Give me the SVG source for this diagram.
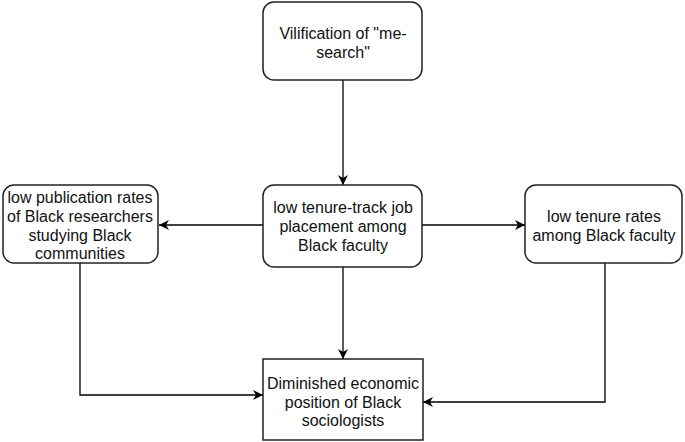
<svg xmlns="http://www.w3.org/2000/svg" width="685" height="442" viewBox="0 0 685 442">
<defs>
<marker id="arr" viewBox="0 0 10 10" refX="10" refY="5" markerWidth="10" markerHeight="10" markerUnits="userSpaceOnUse" orient="auto">
<path d="M0,0 L10,5 L0,10 L3,5 Z" fill="#000"/>
</marker>
</defs>
<style>
.box{fill:#fff;stroke:#222;stroke-width:1.5}
.t{font-family:"Liberation Sans",Arial,sans-serif;font-size:16px;fill:#111;text-anchor:middle}
.c{fill:none;stroke:#000;stroke-width:1.3;marker-end:url(#arr)}
</style>
<rect width="685" height="442" fill="#fff"/>
<g id="connectors">
<path class="c" d="M343,80 L343,185"/>
<path class="c" d="M263,225 L159,225"/>
<path class="c" d="M422,225 L525,225"/>
<path class="c" d="M343,267 L343,359"/>
<path class="c" d="M80,263 L80,395 L263,395"/>
<path class="c" d="M605,263 L605,402 L423,402"/>
</g>
<g id="n1">
<rect class="box" x="263" y="2" width="159" height="78" rx="11"/>
<text class="t" x="343" y="39">Vilification of "me-</text>
<text class="t" x="343" y="58">search"</text>
</g>
<g id="n2">
<rect class="box" x="263" y="185" width="159" height="82" rx="11"/>
<text class="t" x="343" y="213">low tenure-track job</text>
<text class="t" x="343" y="232">placement among</text>
<text class="t" x="343" y="251">Black faculty</text>
</g>
<g id="n3">
<rect class="box" x="3" y="185" width="155" height="78" rx="11"/>
<text class="t" x="80" y="203">low publication rates</text>
<text class="t" x="80" y="222">of Black researchers</text>
<text class="t" x="80" y="241">studying Black</text>
<text class="t" x="80" y="259">communities</text>
</g>
<g id="n4">
<rect class="box" x="525" y="185" width="157" height="78" rx="11"/>
<text class="t" x="604" y="222">low tenure rates</text>
<text class="t" x="604" y="241">among Black faculty</text>
</g>
<g id="n5">
<rect class="box" x="263" y="359" width="160" height="81"/>
<text class="t" x="343" y="389">Diminished economic</text>
<text class="t" x="343" y="408">position of Black</text>
<text class="t" x="343" y="426">sociologists</text>
</g>
</svg>
